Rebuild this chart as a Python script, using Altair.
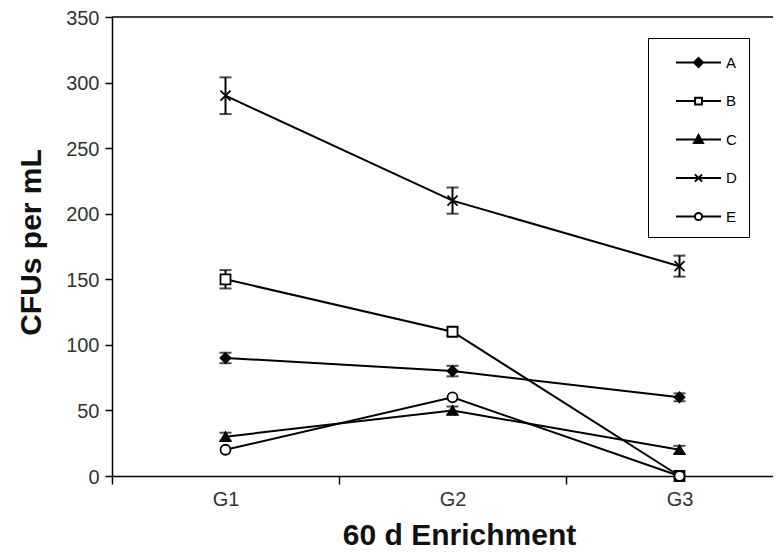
import altair as alt
import pandas as pd

# ---- data ----
groups = ["G1", "G2", "G3"]
group_pos = [1, 2, 3]
series_names = ["A", "B", "C", "D", "E"]
a_vals = [90, 80, 60]
b_vals = [150, 110, 0]
c_vals = [30, 50, 20]
d_vals = [290, 210, 160]
e_vals = [20, 60, 0]
a_err = [4, 4, 3]
b_err = [7, 3, 0]
c_err = [3, 3, 3]
d_err = [14, 10, 8]
e_err = [0, 0, 0]

# marker styling per series
marker_shapes = ["diamond", "square", "triangle-up", "M-1,-1L1,1M-1,1L1,-1", "circle"]
marker_fills = ["black", "white", "black", "black", "white"]
legend_paths = [
    "M-2,0H2M0,-0.4L0.4,0L0,0.4L-0.4,0Z",
    "M-2,0H-0.3M0.3,0H2M-0.3,-0.3H0.3V0.3H-0.3Z",
    "M-2,0H2M0,-0.4L0.4,0.3L-0.4,0.3Z",
    "M-2,0H2M-0.32,-0.32L0.32,0.32M-0.32,0.32L0.32,-0.32",
    "M-2,0H-0.32M0.32,0H2M0.32,0A0.32,0.32 0 1,1 -0.32,0A0.32,0.32 0 1,1 0.32,0Z",
]

vals = [a_vals, b_vals, c_vals, d_vals, e_vals]
errs = [a_err, b_err, c_err, d_err, e_err]
rows = []
for s, v, e in zip(series_names, vals, errs):
    for g, p, vv, ee in zip(groups, group_pos, v, e):
        rows.append({"series": s, "group": g, "x": p, "value": vv, "err": ee,
                     "low": vv - ee, "high": vv + ee})
df = pd.DataFrame(rows)

FONT = "Liberation Sans"
BAND = 227
W, H = 661, 459
x_domain = [0.5, 0.5 + W / BAND]

label_expr = " : ".join(
    f"datum.value == {p - 0.5} ? '{g}'" for g, p in zip(groups[:-1], group_pos[:-1])
) + f" : '{groups[-1]}'"

x_enc = alt.X("x:Q", scale=alt.Scale(domain=x_domain, nice=False, zero=False),
              axis=alt.Axis(values=[p - 0.5 for p in group_pos], labelExpr=label_expr,
                            labelOffset=BAND / 2, labelFlush=False, labelBound=False,
                            labelOverlap=False, grid=False, tickSize=8, labelPadding=5,
                            labelFontSize=20, labelFont=FONT, labelColor="#333333",
                            title="60 d Enrichment", titleFontSize=30, titleFont=FONT,
                            titleFontWeight="bold", titleColor="#111111",
                            titleX=347, titleY=68, titleBaseline="alphabetic",
                            titleAnchor="start", titleAlign="center"))
y_scale = alt.Scale(domain=[0, 350], nice=False)
y_enc = alt.Y("value:Q", scale=y_scale,
              axis=alt.Axis(values=list(range(0, 351, 50)), grid=False, tickSize=7,
                            labelPadding=6, labelFontSize=20, labelFont=FONT, labelOffset=1,
                            labelColor="#333333", title="CFUs per mL", titleFontSize=30,
                            titleFont=FONT, titleFontWeight="bold", titleColor="#111111",
                            titleX=-72, titleY=225, titleAngle=-90, titleAlign="center",
                            titleBaseline="alphabetic"))

base = alt.Chart(df)

top_rule = alt.Chart(pd.DataFrame({"v": [350]})).mark_rule(color="black", strokeWidth=1.5).encode(
    y=alt.Y("v:Q", scale=y_scale))

lines = base.mark_line(color="black", strokeWidth=2).encode(
    x=x_enc, y=y_enc, detail="series:N")

err_df = base.transform_filter("datum.err > 0")
err_rule = err_df.mark_rule(color="black", strokeWidth=2).encode(
    x="x:Q", y="low:Q", y2="high:Q")
cap_low = err_df.mark_tick(color="black", orient="horizontal", size=12, thickness=2).encode(
    x="x:Q", y="low:Q")
cap_high = err_df.mark_tick(color="black", orient="horizontal", size=12, thickness=2).encode(
    x="x:Q", y="high:Q")

points = base.mark_point(stroke="black", strokeWidth=1.8, opacity=1, size=100).encode(
    x="x:Q", y="value:Q",
    shape=alt.Shape("series:N", scale=alt.Scale(domain=series_names, range=marker_shapes), legend=None),
    fill=alt.Fill("series:N", scale=alt.Scale(domain=series_names, range=marker_fills), legend=None),
)

leg = dict(title=None, orient="none", legendX=536, legendY=21)
SYM = 506.25  # sqrt = 22.5 px; paths span +-2 units -> 45 px line
# legend-only layer: its marks sit outside the clipped plot area
legend_layer = base.transform_calculate(off="1000").mark_point(
    strokeWidth=2, opacity=1, size=SYM, clip=True
).encode(
    x="x:Q", y=alt.Y("off:Q", scale=y_scale),
    shape=alt.Shape("series:N", scale=alt.Scale(domain=series_names, range=legend_paths),
                    legend=alt.Legend(**leg,
                                      strokeColor="black", fillColor="white", padding=12,
                                      symbolOffset=26, labelFontSize=15, labelFont=FONT,
                                      labelColor="black", rowPadding=17.5, symbolSize=SYM,
                                      symbolStrokeWidth=2, labelOffset=15)),
    fill=alt.Fill("series:N", scale=alt.Scale(domain=series_names, range=marker_fills),
                  legend=alt.Legend(**leg)),
    stroke=alt.Stroke("series:N", scale=alt.Scale(domain=series_names, range=["black"] * 5),
                      legend=alt.Legend(**leg)),
)

chart = alt.layer(top_rule, lines, err_rule, cap_low, cap_high, points, legend_layer).resolve_scale(
    shape="independent", fill="independent", stroke="independent"
).properties(
    width=W, height=H, autosize="none",
    padding={"left": 104, "top": 9, "right": 0, "bottom": 74},
).configure_view(stroke=None).configure_axis(
    domainColor="black", domainWidth=1.5, tickColor="black", tickWidth=1.5
)

chart.save("out.html", embed_options={"renderer": "svg", "actions": False})
